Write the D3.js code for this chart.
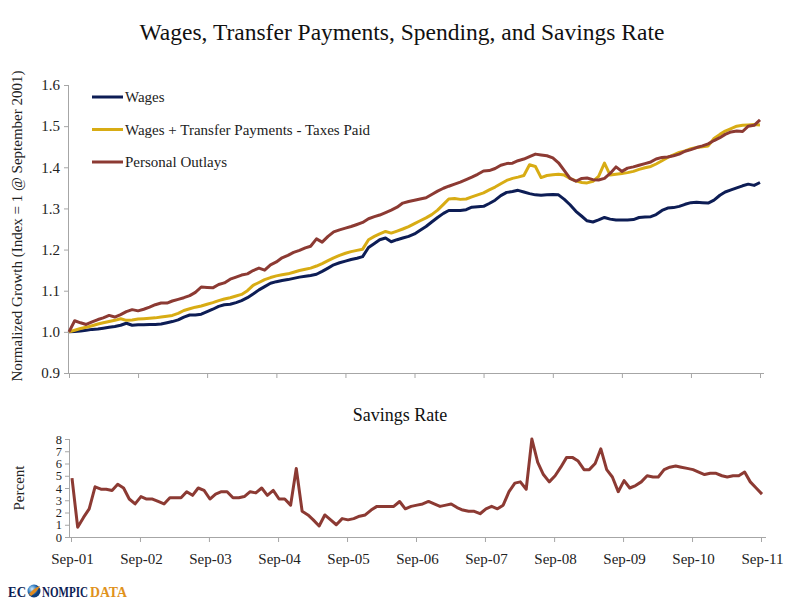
<!DOCTYPE html>
<html>
<head>
<meta charset="utf-8">
<script src="https://cdn.jsdelivr.net/npm/d3@7"></script>
<style>
  body { margin: 0; background: #fff; }
  svg { display: block; font-family: "Liberation Serif", "DejaVu Serif", serif; }
  .axis path, .axis line { stroke: #a6a6a6; }
  .axis text { fill: #222; font-family: "Liberation Serif", serif; }
</style>
</head>
<body>
<svg id="chart" width="800" height="604"></svg>
<script>
"use strict";

// monthly index, Sep 2001 = 1
var wages = [
  1.000, 1.001, 1.002, 1.004, 1.006, 1.007, 1.009, 1.011, 1.013, 1.016, 1.021, 1.016,
  1.017, 1.017, 1.018, 1.018, 1.019, 1.022, 1.025, 1.029, 1.036, 1.041, 1.041, 1.043,
  1.049, 1.055, 1.062, 1.066, 1.067, 1.071, 1.076, 1.083, 1.092, 1.102, 1.110, 1.118,
  1.122, 1.125, 1.127, 1.130, 1.133, 1.135, 1.137, 1.140, 1.147, 1.155, 1.163, 1.168,
  1.172, 1.176, 1.179, 1.183, 1.205, 1.215, 1.224, 1.228, 1.219, 1.224, 1.228, 1.232,
  1.238, 1.247, 1.256, 1.267, 1.278, 1.288, 1.295, 1.295, 1.295, 1.297, 1.303, 1.304,
  1.305, 1.312, 1.320, 1.331, 1.339, 1.341, 1.344, 1.340, 1.336, 1.333, 1.332, 1.333,
  1.334, 1.333, 1.322, 1.309, 1.293, 1.281, 1.270, 1.267, 1.272, 1.278, 1.274, 1.272,
  1.272, 1.272, 1.273, 1.278, 1.279, 1.280, 1.285, 1.295, 1.301, 1.302, 1.305, 1.310,
  1.314, 1.315, 1.314, 1.313, 1.320, 1.332, 1.340, 1.345, 1.350, 1.355, 1.359, 1.356,
  1.363
];

var disposable = [
  1.000, 1.004, 1.008, 1.011, 1.015, 1.019, 1.022, 1.025, 1.028, 1.032, 1.028, 1.029,
  1.031, 1.032, 1.033, 1.034, 1.036, 1.038, 1.040, 1.045, 1.052, 1.056, 1.060, 1.063,
  1.067, 1.071, 1.076, 1.080, 1.083, 1.087, 1.091, 1.100, 1.113, 1.120, 1.127, 1.132,
  1.136, 1.139, 1.141, 1.145, 1.149, 1.152, 1.155, 1.160, 1.166, 1.173, 1.180, 1.186,
  1.191, 1.195, 1.198, 1.201, 1.224, 1.232, 1.238, 1.244, 1.240, 1.245, 1.250, 1.256,
  1.263, 1.270, 1.277, 1.285, 1.296, 1.310, 1.323, 1.324, 1.322, 1.323, 1.328, 1.333,
  1.338, 1.345, 1.352, 1.360, 1.368, 1.373, 1.376, 1.380, 1.406, 1.402, 1.375, 1.380,
  1.382, 1.383, 1.381, 1.373, 1.367, 1.363, 1.362, 1.366, 1.378, 1.410, 1.381, 1.383,
  1.385, 1.387, 1.390, 1.395, 1.399, 1.402, 1.408, 1.416, 1.424, 1.430, 1.436, 1.440,
  1.445, 1.448, 1.450, 1.452, 1.470, 1.480, 1.488, 1.494, 1.500, 1.502, 1.503, 1.504,
  1.503
];

var outlays = [
  1.000, 1.027, 1.022, 1.018, 1.024, 1.030, 1.034, 1.040, 1.036, 1.042, 1.049, 1.054,
  1.051, 1.055, 1.060, 1.066, 1.070, 1.070, 1.075, 1.079, 1.083, 1.088, 1.096, 1.109,
  1.108, 1.107, 1.115, 1.119, 1.128, 1.133, 1.138, 1.141, 1.149, 1.155, 1.150, 1.163,
  1.170, 1.180, 1.186, 1.193, 1.198, 1.204, 1.208, 1.226, 1.218, 1.232, 1.243, 1.248,
  1.252, 1.256, 1.261, 1.266, 1.275, 1.280, 1.284, 1.290, 1.296, 1.303, 1.313, 1.317,
  1.320, 1.323, 1.326, 1.334, 1.342, 1.349, 1.354, 1.359, 1.364, 1.370, 1.376, 1.383,
  1.391, 1.392, 1.397, 1.405, 1.409, 1.410, 1.416, 1.420, 1.426, 1.432, 1.430, 1.428,
  1.423, 1.411, 1.392, 1.373, 1.366, 1.373, 1.374, 1.370, 1.369, 1.373, 1.385, 1.401,
  1.390, 1.398, 1.401, 1.405, 1.409, 1.413, 1.420, 1.424, 1.425, 1.428, 1.432, 1.439,
  1.443, 1.448, 1.452, 1.457, 1.465, 1.472, 1.480, 1.486, 1.488, 1.487, 1.500, 1.502,
  1.515
];

// personal savings rate, percent
var savingsRate = [
  4.8, 0.8, 1.6, 2.3, 4.1, 3.9, 3.9, 3.8, 4.3, 4.0, 3.1, 2.7,
  3.3, 3.1, 3.1, 2.9, 2.7, 3.2, 3.2, 3.2, 3.7, 3.4, 4.0, 3.8,
  3.1, 3.5, 3.7, 3.7, 3.2, 3.2, 3.3, 3.7, 3.6, 4.0, 3.4, 3.8,
  3.1, 3.1, 2.6, 5.6, 2.1, 1.8, 1.4, 0.9, 1.8, 1.4, 1.0, 1.5,
  1.4, 1.5, 1.7, 1.8, 2.2, 2.5, 2.5, 2.5, 2.5, 2.9, 2.3, 2.5,
  2.6, 2.7, 2.9, 2.7, 2.5, 2.6, 2.7, 2.4, 2.2, 2.1, 2.1, 1.9,
  2.3, 2.5, 2.3, 2.6, 3.7, 4.4, 4.5, 3.9, 8.0, 6.1, 5.1, 4.5,
  5.0, 5.7, 6.5, 6.5, 6.2, 5.5, 5.5, 6.0, 7.2, 5.5, 4.9, 3.7,
  4.6, 4.0, 4.2, 4.5, 5.0, 4.9, 4.9, 5.5, 5.7, 5.8, 5.7, 5.6,
  5.5, 5.3, 5.1, 5.2, 5.2, 5.0, 4.9, 5.0, 5.0, 5.3, 4.5, 4.0,
  3.5
];

var seriesNames = ["Wages", "Wages + Transfer Payments - Taxes Paid", "Personal Outlays"];
var seriesColors = ["#0d1d55", "#d8ac14", "#8c3a33"];
var topTicks = [0.9, 1.0, 1.1, 1.2, 1.3, 1.4, 1.5, 1.6];
var bottomTicks = [0, 1, 2, 3, 4, 5, 6, 7, 8];
var tickLabels = ["Sep-01", "Sep-02", "Sep-03", "Sep-04", "Sep-05", "Sep-06",
                  "Sep-07", "Sep-08", "Sep-09", "Sep-10", "Sep-11"];

var start = new Date(2001, 8, 1), end = new Date(2011, 8, 1);
var months = d3.timeMonth.range(start, d3.timeMonth.offset(end, 1));
var years = months.filter(function (d, i) { return i % 12 === 0; });

var svg = d3.select("#chart");

svg.append("text")
    .attr("x", 402).attr("y", 40)
    .attr("text-anchor", "middle")
    .style("font-size", "23.5px")
    .style("fill", "#111")
    .text("Wages, Transfer Payments, Spending, and Savings Rate");

// top panel
var x1 = d3.scaleTime().domain([start, end]).range([69, 760]);
var y1 = d3.scaleLinear().domain([0.9, 1.6]).range([373, 85]);

svg.append("g").attr("class", "axis")
    .attr("transform", "translate(0,373)")
    .call(d3.axisBottom(x1).tickValues(years).tickSize(5).tickFormat(""))
    .call(function (g) { g.select(".domain").attr("d", "M69,0.5H764"); });

svg.append("g").attr("class", "axis")
    .attr("transform", "translate(69,0)")
    .call(d3.axisLeft(y1).tickValues(topTicks).tickSize(5).tickPadding(4).tickFormat(d3.format(".1f")))
    .call(function (g) {
        g.select(".domain").attr("d", "M-0.5,85V373");
        g.selectAll("text").style("font-size", "15px");
    });

svg.append("text")
    .attr("transform", "translate(22,226) rotate(-90)")
    .attr("text-anchor", "middle")
    .style("font-size", "15px")
    .style("fill", "#222")
    .text("Normalized Growth (Index = 1 @ September 2001)");

var line1 = d3.line()
    .x(function (d, i) { return x1(months[i]); })
    .y(function (d) { return y1(d); });

[wages, disposable, outlays].forEach(function (s, k) {
    svg.append("path")
        .datum(s)
        .attr("fill", "none")
        .attr("stroke", seriesColors[k])
        .attr("stroke-width", 3)
        .attr("stroke-linejoin", "round")
        .attr("d", line1);
});

var legend = svg.append("g");
seriesNames.forEach(function (name, k) {
    var yy = 97 + k * 32.5;
    legend.append("line")
        .attr("x1", 92).attr("x2", 123)
        .attr("y1", yy).attr("y2", yy)
        .attr("stroke", seriesColors[k]).attr("stroke-width", 3);
    legend.append("text")
        .attr("x", 125).attr("y", yy + 5)
        .style("font-size", "15px")
        .style("fill", "#222")
        .text(name);
});

// bottom panel
var x2 = d3.scaleTime().domain([start, end]).range([72, 762]);
var y2 = d3.scaleLinear().domain([0, 8]).range([537, 439]);

svg.append("text")
    .attr("x", 400).attr("y", 421)
    .attr("text-anchor", "middle")
    .style("font-size", "18px")
    .style("fill", "#111")
    .text("Savings Rate");

svg.append("g").attr("class", "axis")
    .attr("transform", "translate(0,537)")
    .call(d3.axisBottom(x2).tickValues(years).tickSize(5).tickPadding(11)
        .tickFormat(function (d, i) { return tickLabels[i]; }))
    .call(function (g) {
        g.select(".domain").attr("d", "M70,0.5H766");
        g.selectAll(".tick line").attr("transform", "translate(-1,0)");
        g.selectAll("text").style("font-size", "15px");
    });

svg.append("g").attr("class", "axis")
    .attr("transform", "translate(70,0)")
    .call(d3.axisLeft(y2).tickValues(bottomTicks).tickSize(5).tickPadding(3))
    .call(function (g) {
        g.select(".domain").attr("d", "M-0.5,439V537");
        g.selectAll("text").style("font-size", "12.5px");
    });

svg.append("text")
    .attr("transform", "translate(24,488) rotate(-90)")
    .attr("text-anchor", "middle")
    .style("font-size", "15px")
    .style("fill", "#222")
    .text("Percent");

var line2 = d3.line()
    .x(function (d, i) { return x2(months[i]); })
    .y(function (d) { return y2(d); });

svg.append("path")
    .datum(savingsRate)
    .attr("fill", "none")
    .attr("stroke", seriesColors[2])
    .attr("stroke-width", 3)
    .attr("stroke-linejoin", "round")
    .attr("d", line2);

// logo, each word squeezed horizontally to its slot
var grad = svg.append("defs").append("radialGradient").attr("id", "globe")
    .attr("cx", "35%").attr("cy", "35%");
grad.append("stop").attr("offset", "0%").attr("stop-color", "#d6ebf8");
grad.append("stop").attr("offset", "60%").attr("stop-color", "#3c86c8");
grad.append("stop").attr("offset", "100%").attr("stop-color", "#0d3d7a");

var logo = svg.append("g").attr("transform", "translate(0,597)");
logo.append("circle").attr("cx", 34).attr("cy", -6).attr("r", 6.5).attr("fill", "url(#globe)");
logo.append("path").attr("d", "M29,-3 Q34,-9 40,-11 Q37,-5 31,-1 Z").attr("fill", "#e08a1e");

var logoParts = [
    { t: "EC", x: 8, w: 18, c: "#0d1d55" },
    { t: "NOMPIC", x: 42, w: 46, c: "#0d1d55" },
    { t: "DATA", x: 90, w: 37, c: "#e0921c" }
];
logo.selectAll("text.logo")
    .data(logoParts)
    .enter().append("text")
    .attr("class", "logo")
    .style("font-family", "'Liberation Serif', serif")
    .style("font-weight", "bold")
    .style("font-size", "14.5px")
    .style("fill", function (d) { return d.c; })
    .text(function (d) { return d.t; })
    .attr("transform", function (d) {
        var sx = d.w / this.getComputedTextLength();
        return "translate(" + d.x + ",0) scale(" + sx + ",1)";
    });
</script>
</body>
</html>
